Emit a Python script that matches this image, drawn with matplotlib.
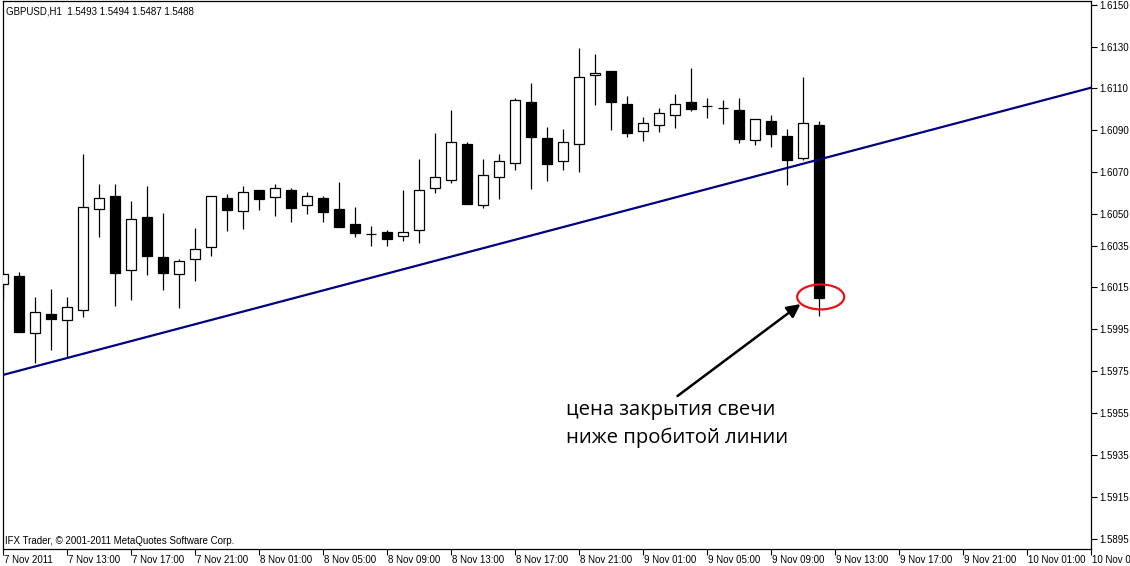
import matplotlib
matplotlib.use("Agg")
import matplotlib.pyplot as plt
import matplotlib.transforms as mtransforms
from matplotlib.patches import Ellipse

# ---- data (GBPUSD H1) ----
opens = [1.60165, 1.60205, 1.59931, 1.60024, 1.59994, 1.60041, 1.60523, 1.60587, 1.60232, 1.60487,
         1.60296, 1.60213, 1.60285, 1.60342, 1.60576, 1.60514, 1.60614, 1.60584, 1.60614, 1.60542,
         1.60576, 1.60523, 1.60453, 1.60404, 1.60415, 1.60395, 1.60423, 1.60624, 1.60662, 1.60834,
         1.60542, 1.60676, 1.60743, 1.61034, 1.60862, 1.60753, 1.60834, 1.61163, 1.61182, 1.61025,
         1.60896, 1.60924, 1.60972, 1.61034, 1.61015, 1.61006, 1.60996, 1.60853, 1.60943, 1.60872,
         1.60770, 1.60924]
highs = [1.60224, 1.60224, 1.60105, 1.60143, 1.60105, 1.60787, 1.60644, 1.60644, 1.60563, 1.60635,
         1.60507, 1.60286, 1.60434, 1.60585, 1.60596, 1.60635, 1.60614, 1.60644, 1.60625, 1.60605,
         1.60585, 1.60652, 1.60533, 1.60442, 1.60425, 1.60616, 1.60764, 1.60888, 1.60997, 1.60843,
         1.60764, 1.60787, 1.61053, 1.61126, 1.60915, 1.60905, 1.61293, 1.61265, 1.61182, 1.61063,
         1.60963, 1.61006, 1.61072, 1.61196, 1.61053, 1.61044, 1.61053, 1.60953, 1.60972, 1.60905,
         1.61155, 1.60943]
lows = [1.60094, 1.59939, 1.59791, 1.59852, 1.59812, 1.60011, 1.60393, 1.60063, 1.60092, 1.60211,
        1.60140, 1.60054, 1.60183, 1.60302, 1.60421, 1.60431, 1.60521, 1.60493, 1.60464, 1.60502,
        1.60464, 1.60440, 1.60393, 1.60350, 1.60350, 1.60374, 1.60364, 1.60603, 1.60650, 1.60550,
        1.60531, 1.60574, 1.60712, 1.60622, 1.60660, 1.60712, 1.60703, 1.61023, 1.60903, 1.60870,
        1.60851, 1.60894, 1.60913, 1.60994, 1.60961, 1.60932, 1.60841, 1.60832, 1.60822, 1.60641,
        1.60760, 1.60013]
closes = [1.60213, 1.59939, 1.60032, 1.60001, 1.60056, 1.60533, 1.60576, 1.60221, 1.60476, 1.60302,
          1.60221, 1.60275, 1.60333, 1.60585, 1.60521, 1.60605, 1.60574, 1.60624, 1.60531, 1.60585,
          1.60512, 1.60440, 1.60412, 1.60404, 1.60383, 1.60414, 1.60614, 1.60676, 1.60843, 1.60550,
          1.60686, 1.60753, 1.61044, 1.60870, 1.60741, 1.60843, 1.61153, 1.61173, 1.61034, 1.60886,
          1.60934, 1.60982, 1.61025, 1.61004, 1.61015, 1.61006, 1.60860, 1.60953, 1.60884, 1.60760,
          1.60934, 1.60101]

x_tick_bars = [0, 4, 8, 12, 16, 20, 24, 28, 32, 36, 40, 44, 48, 52, 56, 60, 64, 68]
x_tick_labels = ["7 Nov 2011", "7 Nov 13:00", "7 Nov 17:00", "7 Nov 21:00",
                 "8 Nov 01:00", "8 Nov 05:00", "8 Nov 09:00", "8 Nov 13:00",
                 "8 Nov 17:00", "8 Nov 21:00", "9 Nov 01:00", "9 Nov 05:00",
                 "9 Nov 09:00", "9 Nov 13:00", "9 Nov 17:00", "9 Nov 21:00",
                 "10 Nov 01:00", "10 Nov 05:00"]
y_ticks = [1.6150, 1.6130, 1.6110, 1.6090, 1.6070, 1.6050, 1.6035,
           1.6015, 1.5995, 1.5975, 1.5955, 1.5935, 1.5915, 1.5895]
y_tick_labels = ["1.6150", "1.6130", "1.6110", "1.6090", "1.6070", "1.6050", "1.6035",
                 "1.6015", "1.5995", "1.5975", "1.5955", "1.5935", "1.5915", "1.5895"]

trend_bars = [0, 51]
trend_prices = [1.59733, 1.60761]

title_text = "GBPUSD,H1  1.5493 1.5494 1.5487 1.5488"
copyright_text = "IFX Trader, \u00a9 2001-2011 MetaQuotes Software Corp."
note_lines = ["цена закрытия свечи", "ниже пробитой линии"]

# ---- figure ----
plt.rcParams['font.family'] = ['Liberation Sans', 'DejaVu Sans']
W, H = 1130, 566
fig = plt.figure(figsize=(W / 100, H / 100), dpi=100)
ax = fig.add_axes([3 / W, 17.5 / H, 1088 / W, 548 / H])

n = len(opens)
xs = list(range(n))
bottoms = [min(o, c) for o, c in zip(opens, closes)]
heights = [abs(c - o) for o, c in zip(opens, closes)]
colors = ['white' if c >= o else 'black' for o, c in zip(opens, closes)]

ax.vlines(xs, lows, highs, color='black', lw=0.9, zorder=2)
ax.bar(xs, heights, width=0.62, bottom=bottoms, color=colors,
       edgecolor='black', linewidth=0.9, zorder=3)

ax.axline((trend_bars[0], trend_prices[0]), (trend_bars[1], trend_prices[1]),
          color='#000080', lw=1.6, zorder=4)

ax.add_patch(Ellipse((51.1, 1.60105), width=2.94, height=0.00119, fill=False,
                     edgecolor='#e8101a', lw=1.6, zorder=5))

ax.annotate('', xy=(49.84, 1.60071), xytext=(42.15, 1.59632),
            arrowprops=dict(arrowstyle='-|>', color='black', lw=1.8,
                            mutation_scale=20, shrinkA=0, shrinkB=0), zorder=5)

ax.text(35.2, 1.59541, note_lines[0], fontsize=14.6, family=['Open Sans', 'DejaVu Sans'],
        ha='left', va='baseline', color='black')
ax.text(35.2, 1.59408, note_lines[1], fontsize=14.6, family=['Open Sans', 'DejaVu Sans'],
        ha='left', va='baseline', color='black')

ax.set_xlim(-0.02, 67.98)
ax.set_ylim(1.58904, 1.61520)

ax.yaxis.tick_right()
ax.set_yticks(y_ticks)
ax.set_yticklabels(y_tick_labels)
ax.tick_params(axis='y', direction='out', length=4, width=0.8, pad=2, labelsize=7)

ax.set_xticks(x_tick_bars)
ax.set_xticklabels(x_tick_labels)
ax.tick_params(axis='x', direction='out', length=4, width=0.8, pad=1, labelsize=7)
offset = mtransforms.ScaledTranslation(1 / 100, 0, fig.dpi_scale_trans)
for lbl in ax.get_xticklabels():
    lbl.set_ha('left')
    lbl.set_transform(lbl.get_transform() + offset)

for s in ax.spines.values():
    s.set_linewidth(0.9)
    s.set_color('black')

fig.text(6 / W, 1 - 11 / H, title_text, fontsize=7, ha='left', va='center')
fig.text(5 / W, 1 - 541 / H, copyright_text, fontsize=7, ha='left', va='center')

fig.savefig('out.png', dpi=100, facecolor='white')
